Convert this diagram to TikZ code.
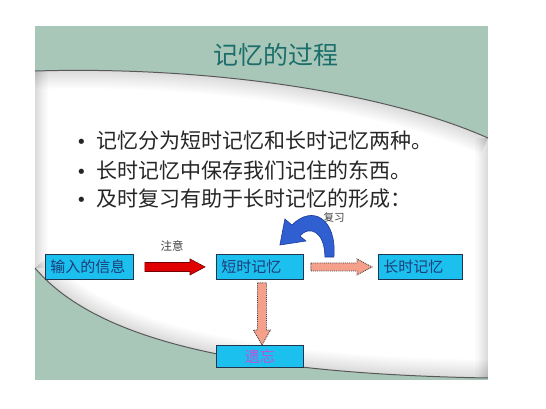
\documentclass[tikz,border=0pt]{standalone}
\usepackage{fontspec}
\setmainfont{Noto Sans CJK SC}
\newfontfamily\dejavu{DejaVu Sans}
\usetikzlibrary{calc}
\definecolor{slidegreen}{HTML}{A9C7B9}
\definecolor{titleteal}{HTML}{1B6E6A}
\definecolor{boxcyan}{HTML}{1CC0EE}
\definecolor{boxline}{HTML}{1F3550}
\definecolor{boxtext}{HTML}{1E3C78}
\definecolor{salmon}{HTML}{F4A08A}
\definecolor{arcblue}{HTML}{2F5FD0}
\definecolor{arcline}{HTML}{1C3A96}
\definecolor{forgetpink}{HTML}{C050D8}
\tikzset{
  membox/.style={draw=boxline, line width=0.9pt, fill=boxcyan, anchor=north west,
    inner xsep=5pt, inner ysep=0pt, align=left, text=boxtext,
    font=\fontsize{15}{15}\selectfont},
  redarrow/.style={fill=red!88!black, draw=red!45!black, line width=0.6pt},
  dotarrow/.style={fill=salmon, draw=black!75, line width=0.9pt, densely dotted},
  bluearc/.style={fill=arcblue, draw=arcline, line width=0.6pt},
  bullettext/.style={anchor=west, text=black!85, font=\fontsize{21}{21}\selectfont, inner sep=0pt},
  smalllabel/.style={text=black!75, inner sep=0pt}
}
\newcommand{\bul}{\makebox[20pt][l]{{\dejavu\fontsize{18}{18}\selectfont •}}}
\begin{document}
\begin{tikzpicture}[x=1pt,y=-1pt]
\useasboundingbox (0,0) rectangle (546,408);
% slide background
\fill[slidegreen] (35,26) rectangle (488,380);
\path[fill=white] (35,71) .. controls (200,66) and (380,90) .. (488,138)
  -- (488,378) .. controls (260,374) and (100,345) .. (35,268) -- cycle;
\begin{scope}
  \clip (35,71) .. controls (200,66) and (380,90) .. (488,138)
  -- (488,378) .. controls (260,374) and (100,345) .. (35,268) -- cycle;
  \foreach \w in {3,6,...,36}{
    \draw[black, line width=\w pt, opacity=0.012] (35,71) .. controls (200,66) and (380,90) .. (488,138);
    \draw[black, line width=\w pt, opacity=0.012] (488,378) .. controls (260,374) and (100,345) .. (35,268);
    \draw[black, line width=0.7*\w pt, opacity=0.01] (35,71) -- (35,268);
    \draw[black, line width=0.7*\w pt, opacity=0.01] (488,138) -- (488,378);
  }
\end{scope}
\draw[black!65, line width=1pt] (35,71) .. controls (200,66) and (380,90) .. (488,138);
\draw[black!65, line width=1pt] (488,378) .. controls (260,374) and (100,345) .. (35,268);

% title
\node[text=titleteal, font=\fontsize{25}{25}\selectfont, inner sep=0pt] (title) at (276,55) {记忆的过程};

% bullets
\node[bullettext] (b1) at (76,141) {\bul 记忆分为短时记忆和长时记忆两种。};
\node[bullettext] (b2) at (76,170) {\bul 长时记忆中保存我们记住的东西。};
\node[bullettext] (b3) at (76,199) {\bul 及时复习有助于长时记忆的形成：};

% boxes
\node[membox, minimum width=88pt, minimum height=25pt, text width=78pt] (in) at (45,254) {输入的信息};
\node[membox, minimum width=87pt, minimum height=25pt, text width=77pt] (stm) at (216,254) {短时记忆};
\node[membox, minimum width=84pt, minimum height=25pt, text width=74pt] (ltm) at (378,254) {长时记忆};
\node[membox, minimum width=87pt, minimum height=22pt, text width=77pt, align=center, text=forgetpink] (forget) at (216,345) {遗忘};

% red arrow in -> stm
\draw[redarrow] let \p1=($(in.east)+(11,0)$), \p2=($(stm.west)+(-11,0)$) in
  (\x1,{\y1+4.5pt}) -- ({\x2-15pt},{\y1+4.5pt}) -- ({\x2-15pt},{\y1+8pt}) -- (\x2,\y1)
  -- ({\x2-15pt},{\y1-8pt}) -- ({\x2-15pt},{\y1-4.5pt}) -- (\x1,{\y1-4.5pt}) -- cycle;
% dotted arrow stm -> ltm
\draw[dotarrow] let \p1=($(stm.east)+(7,0)$), \p2=($(ltm.west)+(-6,0)$) in
  (\x1,{\y1+4pt}) -- ({\x2-15pt},{\y1+4pt}) -- ({\x2-15pt},{\y1+8pt}) -- (\x2,\y1)
  -- ({\x2-15pt},{\y1-8pt}) -- ({\x2-15pt},{\y1-4pt}) -- (\x1,{\y1-4pt}) -- cycle;
% dotted arrow stm -> forget
\draw[dotarrow] let \p1=($(stm.south)+(2,3)$), \p2=($(forget.north)+(2,0)$) in
  ({\x1-4.5pt},\y1) -- ({\x1-4.5pt},{\y2+15pt}) -- ({\x1-8.5pt},{\y2+15pt}) -- (\x1,\y2)
  -- ({\x1+8.5pt},{\y2+15pt}) -- ({\x1+4.5pt},{\y2+15pt}) -- ({\x1+4.5pt},\y1) -- cycle;
% blue loop arrow on stm
\begin{scope}[shift={(stm.north east)}]
  \draw[bluearc] (21,3) -- (30,3) .. controls (33,-35) and (9,-50) .. (-12,-29)
    -- (-19,-35) -- (-24,-9) -- (2,-13) -- (-4,-18)
    .. controls (5,-29) and (21,-23) .. (21,3) -- cycle;
\end{scope}

% labels
\node[smalllabel, font=\fontsize{11.5}{11.5}\selectfont] (attn) at (172,246) {注意};
\node[smalllabel, font=\fontsize{10.5}{10.5}\selectfont] (rev) at (334,218) {复习};
\end{tikzpicture}
\end{document}
